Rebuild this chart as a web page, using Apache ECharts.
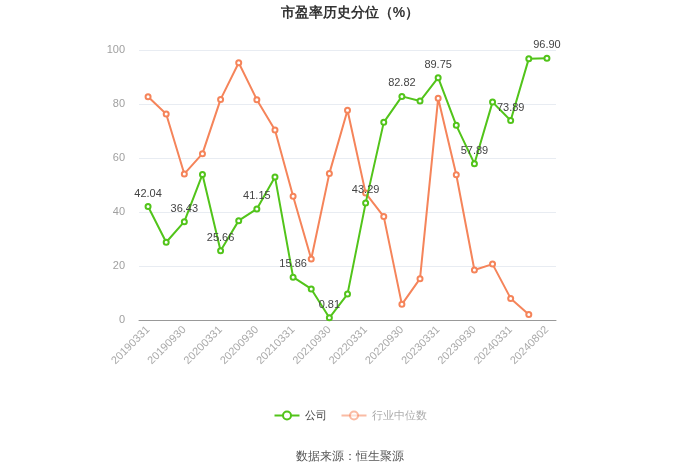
<!DOCTYPE html>
<html><head><meta charset="utf-8">
<script src="https://cdn.jsdelivr.net/npm/echarts@6/dist/echarts.min.js"></script>
<style>html,body{margin:0;padding:0;background:#fff}#c{width:700px;height:474px}</style>
</head><body><div id="c"></div>
<script>
var categories = ['20190331','20190630','20190930','20191231','20200331','20200630','20200930','20201231','20210331','20210630','20210930','20211231','20220331','20220630','20220930','20221231','20230331','20230630','20230930','20231231','20240331','20240630','20240802'];
var companyValues = [42.04,28.8,36.43,53.9,25.66,36.8,41.15,53.0,15.86,11.5,0.81,9.6,43.29,73.2,82.82,81.1,89.75,72.1,57.89,80.7,73.89,96.8,96.90];
var industryValues = [82.7,76.3,54.1,61.6,81.7,95.3,81.6,70.4,45.8,22.6,54.3,77.7,47.0,38.3,5.8,15.3,82.1,53.8,18.5,20.7,8.0,2.0,null];
var yTicks = [0,20,40,60,80,100];

var green = '#52c41a', orange = '#f5845a';
var chart = echarts.init(document.getElementById('c'));
chart.setOption({
  animation:false,
  title:{text:'市盈率历史分位（%）',left:'center',top:1,textStyle:{fontSize:14,fontWeight:'bold',color:'#333'}},
  grid:{left:139,right:144,top:50,bottom:154},
  legend:{bottom:48,left:'center',itemWidth:25,itemHeight:10,itemGap:14,
    textStyle:{fontSize:11,color:'#444'},
    data:[{name:'公司'},{name:'行业中位数',textStyle:{color:'#aaa'},itemStyle:{opacity:0.55},lineStyle:{opacity:0.55}}]},
  graphic:[{type:'text',left:'center',top:451,style:{text:'数据来源：恒生聚源',fontSize:12,fill:'#555'}}],
  xAxis:{type:'category',data:categories,boundaryGap:true,
    axisLine:{lineStyle:{color:'#999'}},
    axisTick:{alignWithLabel:true,interval:1,lineStyle:{color:'#999'}},
    axisLabel:{interval:1,rotate:45,fontSize:11,color:'#aaa',margin:8}},
  yAxis:{type:'value',min:yTicks[0],max:yTicks[yTicks.length-1],interval:20,
    axisLabel:{fontSize:11,color:'#a0a0a0',margin:14},
    splitLine:{lineStyle:{color:'#e8ecf2'}}},
  series:[
    {name:'公司',type:'line',data:companyValues,symbol:'emptyCircle',symbolSize:5,
     itemStyle:{color:green},lineStyle:{width:2,color:green},
     label:{show:true,position:'top',fontSize:11,color:'#444',distance:4,
       formatter:function(p){return p.dataIndex%2===0?p.value.toFixed(2):'';}},
     labelLayout:{hideOverlap:false},z:3},
    {name:'行业中位数',type:'line',data:industryValues,symbol:'emptyCircle',symbolSize:5,
     itemStyle:{color:orange},lineStyle:{width:2,color:orange},z:2}
  ]
});
</script></body></html>
